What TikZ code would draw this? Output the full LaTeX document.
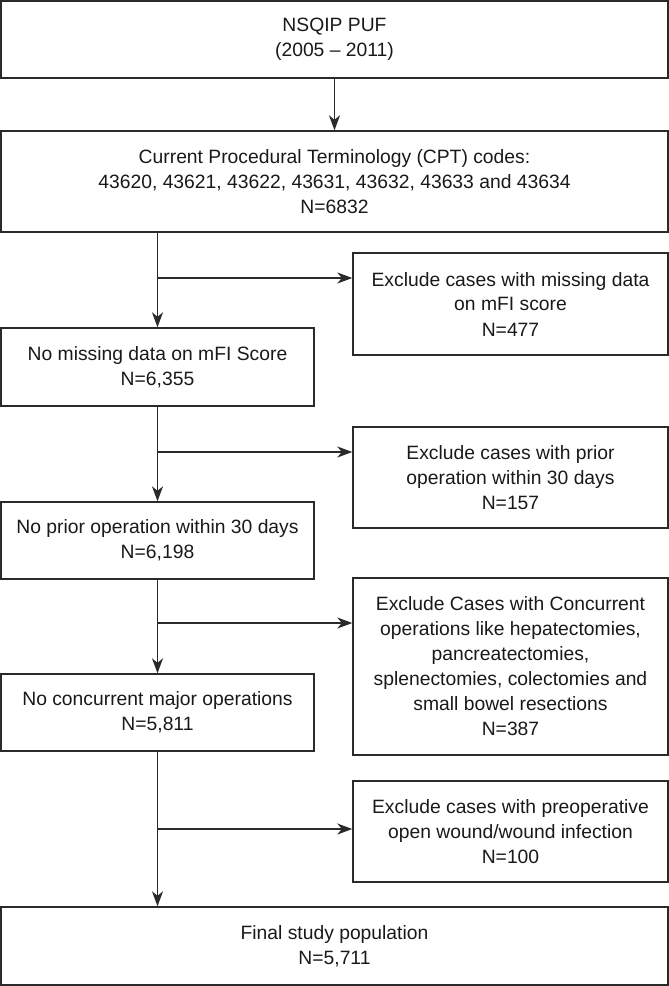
\documentclass[tikz,border=0pt]{standalone}
\usepackage{fontspec}
\setmainfont{Liberation Sans}
\usetikzlibrary{arrows.meta,calc}
\definecolor{lc}{HTML}{2A2A2A}
\begin{document}
\begin{tikzpicture}[x=1pt,y=-1pt,
  box/.style={draw=lc,line width=1.4pt,rectangle,align=center,inner sep=0pt,
    font=\fontsize{19.3}{25}\selectfont,text=black!90},
  conn/.style={draw=lc,line width=1.4pt,-{Stealth[length=15pt,width=11pt,inset=4.5pt]}},
  plain/.style={draw=lc,line width=1.4pt}]
\useasboundingbox (0,0) rectangle (669,986);
\node[box,minimum width=667pt,minimum height=77pt] (b1) at (334.5,39.5) {NSQIP PUF\\(2005 -- 2011)};
\node[box,minimum width=667pt,minimum height=101pt] (b2) at (334.5,181.5) {Current Procedural Terminology (CPT) codes:\\43620, 43621, 43622, 43631, 43632, 43633 and 43634\\N=6832};
\node[box,minimum width=315pt,minimum height=102pt] (xa) at (510.5,304) {Exclude cases with missing data\\on mFI score\\N=477};
\node[box,minimum width=313pt,minimum height=78pt] (b3) at (157.5,367) {No missing data on mFI Score\\N=6,355};
\node[box,minimum width=315pt,minimum height=101pt] (xb) at (510.5,477.5) {Exclude cases with prior\\operation within 30 days\\N=157};
\node[box,minimum width=313pt,minimum height=77pt] (b4) at (157.5,540.5) {No prior operation within 30 days\\N=6,198};
\node[box,minimum width=315pt,minimum height=177pt] (xc) at (510.5,666.5) {Exclude Cases with Concurrent\\operations like hepatectomies,\\pancreatectomies,\\splenectomies, colectomies and\\small bowel resections\\N=387};
\node[box,minimum width=313pt,minimum height=77pt] (b5) at (157.5,712.5) {No concurrent major operations\\N=5,811};
\node[box,minimum width=315pt,minimum height=101pt] (xd) at (510.5,831.5) {Exclude cases with preoperative\\open wound/wound infection\\N=100};
\node[box,minimum width=667pt,minimum height=78pt] (b6) at (334.5,946) {Final study population\\N=5,711};
\coordinate (j1) at (157.5,278);
\coordinate (j2) at (157.5,452);
\coordinate (j3) at (157.5,623);
\coordinate (j4) at (157.5,829);
\draw[conn] (b1.south) -- (b2.north);
\draw[conn] (b2.south -| b3.north) -- (b3.north);
\draw[conn] (j1) -- (j1 -| xa.west);
\draw[conn] (b3.south) -- (b4.north);
\draw[conn] (j2) -- (j2 -| xb.west);
\draw[conn] (b4.south) -- (b5.north);
\draw[conn] (j3) -- (j3 -| xc.west);
\draw[conn] (b5.south) -- (b5.south |- b6.north);
\draw[conn] (j4) -- (j4 -| xd.west);
\end{tikzpicture}
\end{document}
